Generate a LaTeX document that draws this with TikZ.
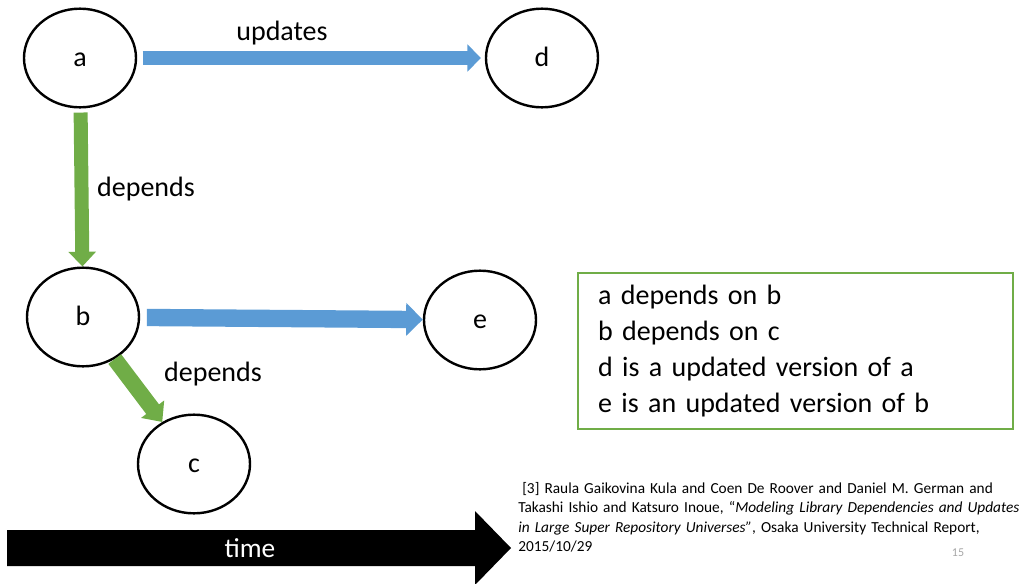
\documentclass[tikz,border=0pt]{standalone}
\usepackage{fontspec}
\setmainfont{Carlito}
\usepackage{xcolor}
\usepackage{tikz}
\usetikzlibrary{shapes.geometric, arrows.meta, positioning}
\definecolor{updblue}{HTML}{5B9BD5}
\definecolor{depgreen}{HTML}{70AD47}
\tikzset{
  libnode/.style={ellipse, draw, line width=1.8pt, minimum width=84pt,
                  minimum height=74pt, inner sep=0pt, text height=13pt,
                  text depth=0pt, font=\fontsize{21}{25}\selectfont},
  edgelabel/.style={font=\fontsize{21}{25}\selectfont},
  updarrow/.style={draw=updblue, line width=10.5pt,
                   -{Triangle[width=20pt, length=10pt]}},
  deparrow/.style={draw=depgreen, line width=10.5pt,
                   -{Triangle[width=20pt, length=11pt]}},
  notebox/.style={rectangle, draw=depgreen, line width=1.4pt, align=left,
                  text width=296pt, inner xsep=15pt, minimum height=117pt,
                  font=\fontsize{21}{26.8}\selectfont},
  citetext/.style={align=left, inner sep=0pt, text width=392pt,
                   font=\fontsize{11.5}{14.6}\selectfont},
  pagenum/.style={text=gray!70, font=\fontsize{9}{10}\selectfont},
  timelabel/.style={text=white, font=\fontsize{20.5}{24}\selectfont},
}

\begin{document}
\begin{tikzpicture}[x=0.75pt, y=-0.75pt]
  \useasboundingbox (0,0) rectangle (1029,583);

  % --- Libraries ---
  \node[libnode] (a) at (80,58)  {a};
  \node[libnode] (d) at (542,58) {d};
  \node[libnode] (b) at (83,317) {b};
  \node[libnode] (e) at (480,320) {e};
  \node[libnode] (c) at (194,464) {c};

  % --- Updates ---
  \draw[updarrow, shorten <=4pt, shorten >=3pt] (a) -- (d);
  \draw[updarrow, line width=13pt, shorten <=5pt,
        -{Triangle[width=24pt, length=12.5pt]}] (b) -- (e);
  \node[edgelabel] (lblupd) at (282,33) {updates};

  % --- Dependencies ---
  \draw[deparrow, shorten <=3pt] (a) -- (b);
  \draw[deparrow, line width=12pt,
        -{Triangle[width=21pt, length=12pt]}] (b) -- (c);
  \node[edgelabel] (lbldepa) at (146,189) {depends};
  \node[edgelabel] (lbldepb) at (213,374) {depends};

  % --- Note ---
  \node[notebox] (note) at (795.5,351) {a depends on b\\
    b depends on c\\
    d is a updated version of a\\
    e is an updated version of b};

  % --- Time ---
  \fill[black] (7,530) -- (475,530) -- (475,511) -- (511,548)
    -- (475,585) -- (475,566) -- (7,566) -- cycle;
  \node[timelabel] (time) at (250,548) {time};

  % --- Reference ---
  \node[citetext, anchor=north west] (ref) at (518,482)
    {\hspace*{3pt}[3] Raula Gaikovina Kula and Coen De Roover and Daniel M. German and\\%
     Takashi Ishio and Katsuro Inoue, “\textit{Modeling Library Dependencies and Updates}\\%
     \textit{in Large Super Repository Universes”}, Osaka University Technical Report,\\%
     2015/10/29};
  \node[pagenum] (pg) at (958,553) {15};
\end{tikzpicture}
\end{document}
